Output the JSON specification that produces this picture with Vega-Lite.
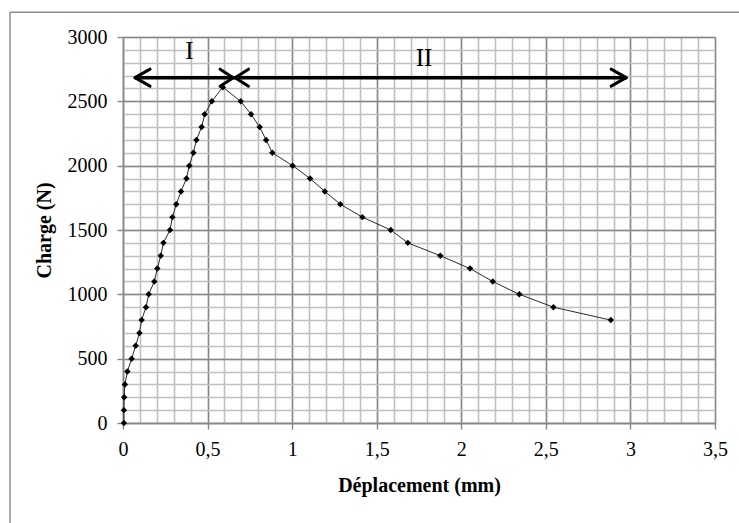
{
  "$schema": "https://vega.github.io/schema/vega-lite/v6.json",
  "autosize": "none",
  "width": 592,
  "height": 386,
  "padding": {"left": 123, "top": 37, "right": 24, "bottom": 100},
  "background": "white",
  "config": {"view": {"stroke": null}, "font": "Liberation Serif"},
  "datasets": {
    "curve": [
      {"d": 0.005, "c": 0}, {"d": 0.005, "c": 100}, {"d": 0.007, "c": 200}, {"d": 0.011, "c": 300},
      {"d": 0.026, "c": 400}, {"d": 0.051, "c": 500}, {"d": 0.075, "c": 600}, {"d": 0.097, "c": 700},
      {"d": 0.11, "c": 800}, {"d": 0.136, "c": 900}, {"d": 0.152, "c": 1000}, {"d": 0.185, "c": 1100},
      {"d": 0.203, "c": 1200}, {"d": 0.223, "c": 1300}, {"d": 0.239, "c": 1400}, {"d": 0.278, "c": 1500},
      {"d": 0.292, "c": 1600}, {"d": 0.315, "c": 1700}, {"d": 0.343, "c": 1800}, {"d": 0.375, "c": 1900},
      {"d": 0.392, "c": 2000}, {"d": 0.416, "c": 2100}, {"d": 0.434, "c": 2200}, {"d": 0.465, "c": 2300},
      {"d": 0.483, "c": 2400}, {"d": 0.525, "c": 2500}, {"d": 0.59, "c": 2610}, {"d": 0.696, "c": 2500},
      {"d": 0.757, "c": 2400}, {"d": 0.808, "c": 2300}, {"d": 0.846, "c": 2200}, {"d": 0.883, "c": 2100},
      {"d": 1.003, "c": 2000}, {"d": 1.106, "c": 1900}, {"d": 1.193, "c": 1800}, {"d": 1.285, "c": 1700},
      {"d": 1.415, "c": 1600}, {"d": 1.583, "c": 1500}, {"d": 1.684, "c": 1400}, {"d": 1.876, "c": 1300},
      {"d": 2.052, "c": 1200}, {"d": 2.186, "c": 1100}, {"d": 2.343, "c": 1000}, {"d": 2.545, "c": 900},
      {"d": 2.884, "c": 800}
    ],
    "arrow": [
      {"x": 0.071, "y": 2684, "x2": 2.975, "y2": 2684}
    ],
    "heads": [
      {"x": 0.071, "y": 2684, "x2": 0.16, "y2": 2750},
      {"x": 0.071, "y": 2684, "x2": 0.16, "y2": 2618},
      {"x": 0.652, "y": 2684, "x2": 0.574, "y2": 2750},
      {"x": 0.652, "y": 2684, "x2": 0.574, "y2": 2618},
      {"x": 0.663, "y": 2684, "x2": 0.742, "y2": 2750},
      {"x": 0.663, "y": 2684, "x2": 0.742, "y2": 2618},
      {"x": 2.975, "y": 2684, "x2": 2.886, "y2": 2750},
      {"x": 2.975, "y": 2684, "x2": 2.886, "y2": 2618}
    ],
    "labels": [
      {"x": 0.392, "y": 2893, "t": "I"},
      {"x": 1.78, "y": 2834, "t": "II"}
    ],
    "frame": [
      {"x": -0.668, "y": 3192, "x2": -0.668, "y2": -1000},
      {"x": -0.668, "y": 3192, "x2": 4.0, "y2": 3192}
    ]
  },
  "layer": [
    {
      "data": {"name": "curve"},
      "mark": {"type": "line", "color": "#2a2a2a", "strokeWidth": 1},
      "encoding": {
        "x": {"field": "d", "type": "quantitative",
              "scale": {"domain": [0, 3.5], "nice": false, "zero": false},
              "axis": {"orient": "bottom", "values": [0,0.1,0.2,0.3,0.4,0.5,0.6,0.7,0.8,0.9,1,1.1,1.2,1.3,1.4,1.5,1.6,1.7,1.8,1.9,2,2.1,2.2,2.3,2.4,2.5,2.6,2.7,2.8,2.9,3,3.1,3.2,3.3,3.4,3.5],
                       "grid": true, "gridColor": "#c0c0c0", "gridWidth": 1.6, "gridOpacity": 1,
                       "labels": false, "ticks": false, "domain": false, "title": null}},
        "y": {"field": "c", "type": "quantitative",
              "scale": {"domain": [0, 3000], "nice": false, "zero": false},
              "axis": {"orient": "left", "values": [0,100,200,300,400,500,600,700,800,900,1000,1100,1200,1300,1400,1500,1600,1700,1800,1900,2000,2100,2200,2300,2400,2500,2600,2700,2800,2900,3000],
                       "grid": true, "gridColor": "#c0c0c0", "gridWidth": 1.6, "gridOpacity": 1,
                       "labels": false, "ticks": false, "domain": false, "title": null}}
      }
    },
    {
      "data": {"name": "curve"},
      "mark": {"type": "point", "shape": "diamond", "filled": true, "color": "#000000", "size": 42, "opacity": 1},
      "encoding": {
        "x": {"field": "d", "type": "quantitative",
              "axis": {"orient": "bottom", "values": [0,0.5,1,1.5,2,2.5,3,3.5],
                       "labelExpr": "replace(format(datum.value, '~g'), '.', ',')",
                       "grid": true, "gridColor": "#878787", "gridWidth": 1.4, "gridOpacity": 1,
                       "domain": true, "domainColor": "#878787", "domainWidth": 1.4,
                       "ticks": true, "tickColor": "#878787", "tickSize": 6, "tickWidth": 1.4,
                       "labelFont": "Liberation Serif", "labelFontSize": 20, "labelColor": "#000000", "labelPadding": 10,
                       "labelFlush": false,
                       "title": "Déplacement (mm)", "titleFont": "Liberation Serif", "titleFontSize": 20,
                       "titleFontWeight": "bold", "titleColor": "#000000", "titlePadding": 16}},
        "y": {"field": "c", "type": "quantitative",
              "axis": {"orient": "left", "values": [0,500,1000,1500,2000,2500,3000], "format": "d",
                       "grid": true, "gridColor": "#878787", "gridWidth": 1.4, "gridOpacity": 1,
                       "domain": true, "domainColor": "#878787", "domainWidth": 1.4,
                       "ticks": true, "tickColor": "#878787", "tickSize": 6, "tickWidth": 1.4,
                       "labelFont": "Liberation Serif", "labelFontSize": 20, "labelColor": "#000000", "labelPadding": 10,
                       "labelFlush": false,
                       "title": "Charge (N)", "titleFont": "Liberation Serif", "titleFontSize": 20,
                       "titleFontWeight": "bold", "titleColor": "#000000", "titlePadding": 13}}
      }
    },
    {
      "data": {"name": "arrow"},
      "mark": {"type": "rule", "color": "#000000", "strokeWidth": 3.5},
      "encoding": {
        "x": {"field": "x", "type": "quantitative", "axis": null},
        "x2": {"field": "x2"},
        "y": {"field": "y", "type": "quantitative", "axis": null},
        "y2": {"field": "y2"}
      }
    },
    {
      "data": {"name": "heads"},
      "mark": {"type": "rule", "color": "#000000", "strokeWidth": 3, "strokeCap": "round"},
      "encoding": {
        "x": {"field": "x", "type": "quantitative", "axis": null},
        "x2": {"field": "x2"},
        "y": {"field": "y", "type": "quantitative", "axis": null},
        "y2": {"field": "y2"}
      }
    },
    {
      "data": {"name": "labels"},
      "mark": {"type": "text", "font": "Liberation Serif", "fontSize": 25, "color": "#000000", "baseline": "middle", "align": "center"},
      "encoding": {
        "x": {"field": "x", "type": "quantitative", "axis": null},
        "y": {"field": "y", "type": "quantitative", "axis": null},
        "text": {"field": "t"}
      }
    },
    {
      "data": {"name": "frame"},
      "mark": {"type": "rule", "color": "#8c8c8c", "strokeWidth": 1.5, "clip": false},
      "encoding": {
        "x": {"field": "x", "type": "quantitative", "axis": null},
        "x2": {"field": "x2"},
        "y": {"field": "y", "type": "quantitative", "axis": null},
        "y2": {"field": "y2"}
      }
    }
  ],
  "resolve": {"axis": {"x": "independent", "y": "independent"}}
}
